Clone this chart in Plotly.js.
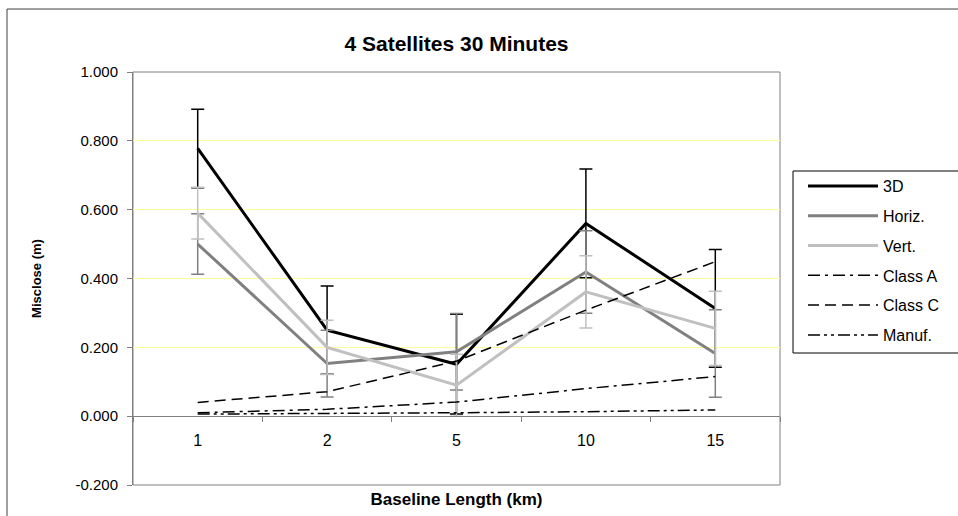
<!DOCTYPE html>
<html>
<head>
<meta charset="utf-8">
<script src="https://cdn.plot.ly/plotly-3.0.1.min.js"></script>
<style>html,body{margin:0;padding:0;background:#fff;}#chart{width:958px;height:516px;}</style>
</head>
<body>
<div id="chart"></div>
<script>
const categories = ['1', '2', '5', '10', '15'];
const threeD = [0.778, 0.250, 0.151, 0.560, 0.313];
const threeDErr = [0.114, 0.128, 0.145, 0.158, 0.171];
const horiz = [0.500, 0.153, 0.187, 0.419, 0.182];
const horizErr = [0.088, 0.097, 0.111, 0.120, 0.127];
const vert = [0.590, 0.200, 0.090, 0.361, 0.255];
const vertErr = [0.075, 0.079, 0.090, 0.105, 0.108];
const classA = [0.010, 0.020, 0.041, 0.080, 0.115];
const classC = [0.040, 0.071, 0.160, 0.308, 0.449];
const manuf = [0.006, 0.007, 0.010, 0.013, 0.018];
const yTickVals = [-0.2, 0, 0.2, 0.4, 0.6, 0.8, 1.0];
const yTickText = ['-0.200', '0.000', '0.200', '0.400', '0.600', '0.800', '1.000'];

const FONT = 'Liberation Sans, Arial, sans-serif';

function solid(name, y, err, color) {
  return {
    type: 'scatter', mode: 'lines', name: name, x: categories, y: y,
    legendgroup: name,
    line: {color: color, width: 3},
    error_y: {type: 'data', array: err, visible: true, color: color, thickness: 1.5, width: 6.5}
  };
}
function dashed(name, y, dash) {
  return {
    type: 'scatter', mode: 'lines', name: name, x: categories, y: y,
    legendgroup: name,
    line: {color: '#000000', width: 1.5, dash: dash}
  };
}

const data = [
  solid('3D', threeD, threeDErr, '#000000'),
  solid('Horiz.', horiz, horizErr, '#808080'),
  solid('Vert.', vert, vertErr, '#c0c0c0'),
  dashed('Class A', classA, '12px,5px,3px,5px'),
  dashed('Class C', classC, '11px,6px'),
  dashed('Manuf.', manuf, '12px,4px,3px,4px,3px,4px')
];

const layout = {
  width: 958, height: 516,
  margin: {l: 133, r: 178, t: 72, b: 31},
  paper_bgcolor: '#ffffff', plot_bgcolor: '#ffffff',
  font: {family: FONT, color: '#000000', size: 14},
  showlegend: true,
  title: {
    text: '<b>4 Satellites 30 Minutes</b>',
    font: {family: FONT, size: 21, color: '#000000'},
    x: 0.5, xref: 'paper', xanchor: 'center',
    y: 1 - 44 / 516, yref: 'container', yanchor: 'middle'
  },
  xaxis: {
    type: 'category',
    range: [-0.5, 4.5],
    anchor: 'free', position: 1 / 6,
    showline: true, linecolor: '#808080', linewidth: 1,
    ticks: 'outside', tickson: 'boundaries', ticklen: 5, tickcolor: '#808080',
    ticklabelstandoff: 10,
    showgrid: false, zeroline: false,
    tickfont: {family: FONT, size: 16, color: '#000000'},
    title: {text: '<b>Baseline Length (km)</b>', font: {family: FONT, size: 17, color: '#000000'}, standoff: 44},
    fixedrange: true
  },
  yaxis: {
    range: [-0.2, 1.0],
    tickmode: 'array', tickvals: yTickVals, ticktext: yTickText,
    showline: true, linecolor: '#808080', linewidth: 1,
    ticks: 'outside', ticklen: 5, tickcolor: '#808080',
    ticklabelstandoff: 6,
    showgrid: true, gridcolor: '#ffff99', gridwidth: 1,
    zeroline: false,
    tickfont: {family: FONT, size: 15, color: '#000000'},
    title: {text: '<b>Misclose (m)</b>', font: {family: FONT, size: 13, color: '#000000'}, standoff: 30},
    fixedrange: true
  },
  legend: {
    x: (803 - 133) / 647, xanchor: 'left',
    y: (485 - 169) / 413, yanchor: 'top',
    borderwidth: 0,
    bgcolor: 'rgba(0,0,0,0)',
    font: {family: FONT, size: 16, color: '#000000'},
    traceorder: 'grouped', tracegroupgap: 6,
    itemwidth: 70
  },
  shapes: [
    {type: 'rect', xref: 'paper', yref: 'paper', x0: 0, x1: 1, y0: 0, y1: 1,
     line: {color: '#808080', width: 1}, layer: 'below'},
    {type: 'rect', xref: 'paper', yref: 'paper',
     x0: (7 - 133) / 647, x1: 1.6, y0: -0.5, y1: (485 - 9) / 413,
     line: {color: '#404040', width: 1}, layer: 'below'},
    {type: 'rect', xref: 'paper', yref: 'paper',
     x0: (793 - 133) / 647, x1: 1.6, y0: (485 - 353) / 413, y1: (485 - 171) / 413,
     line: {color: '#000000', width: 1}, fillcolor: 'rgba(0,0,0,0)', layer: 'below'}
  ]
};

Plotly.newPlot('chart', data, layout, {displayModeBar: false, staticPlot: true});
</script>
</body>
</html>
